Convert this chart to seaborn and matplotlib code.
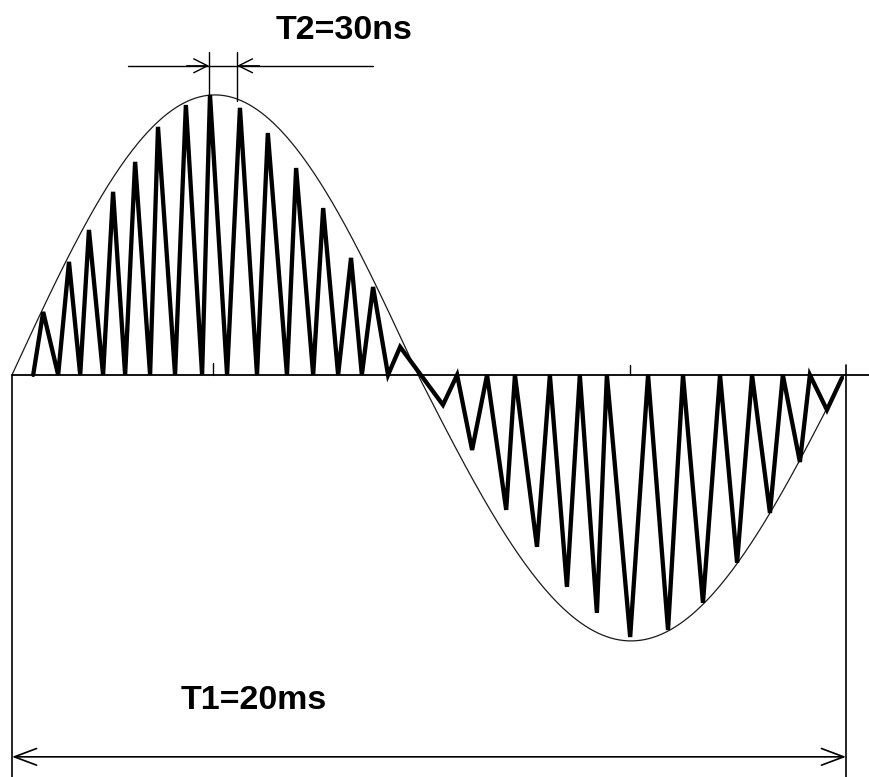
import numpy as np
import pandas as pd
import seaborn as sns
import matplotlib.pyplot as plt

# carrier zig-zag: vertices (time in ms, amplitude relative to the positive peak)
carrier_t = [0.51, 0.75, 1.11, 1.37, 1.64, 1.85, 2.19, 2.43, 2.72, 2.96, 3.32, 3.51,
             3.92, 4.18, 4.57, 4.76, 5.17, 5.48, 5.89, 6.15, 6.61, 6.83, 7.24, 7.48,
             7.84, 8.15, 8.41, 8.68, 9.04, 9.33,
             10.36, 10.70, 11.06, 11.42, 11.88, 12.09, 12.62, 12.93, 13.34, 13.65,
             14.06, 14.30, 14.86, 15.29, 15.77, 16.13, 16.61, 17.02, 17.43, 17.79,
             18.22, 18.53, 18.94, 19.18, 19.59, 19.95]
carrier_v = [0.0, 0.225, 0.0, 0.404, 0.0, 0.518, 0.0, 0.654, 0.0, 0.761, 0.0, 0.886,
             0.0, 0.964, 0.0, 1.0, 0.0, 0.954, 0.0, 0.864, 0.0, 0.739, 0.0, 0.596,
             0.0, 0.418, 0.0, 0.314, 0.0, 0.100,
             -0.107, 0.0, -0.268, 0.0, -0.482, 0.0, -0.614, 0.0, -0.757, 0.0,
             -0.850, 0.0, -0.936, 0.0, -0.911, 0.0, -0.814, 0.0, -0.671, 0.0,
             -0.493, 0.0, -0.311, 0.0, -0.125, -0.011]

# envelope: one period of the mains sine, T1 = 20 ms
T1 = 20.0
zero_cross = 9.76      # where the envelope crosses the axis
pos_peak = 1.0
neg_peak = 0.95

labels = ["T2=30ns", "T1=20ms"]

t_pos = np.linspace(0, zero_cross, 200)
t_neg = np.linspace(zero_cross, T1, 200)
env = pd.DataFrame({
    "t": np.concatenate([t_pos, t_neg]),
    "v": np.concatenate([pos_peak * np.sin(np.pi * t_pos / zero_cross),
                         -neg_peak * np.sin(np.pi * (t_neg - zero_cross) / (T1 - zero_cross))]),
})
carrier = pd.DataFrame({"t": carrier_t, "v": carrier_v})

sns.set_style("white")
plt.rcParams["font.family"] = ["Liberation Sans", "DejaVu Sans"]

fig = plt.figure(figsize=(8.7, 7.77), dpi=100)
ax = fig.add_axes([0, 0, 1, 1])

sns.lineplot(data=env, x="t", y="v", ax=ax, color="#1a1a1a", lw=0.9,
             estimator=None, sort=False)
sns.lineplot(data=carrier, x="t", y="v", ax=ax, color="black", lw=3.1,
             estimator=None, sort=False)
ax.lines[-1].set_solid_joinstyle("miter")

ax.set_xlim(-0.288, 20.625)
ax.set_ylim(-1.436, 1.339)
ax.axis("off")

# axis line and frame lines
ax.plot([0, 20.625], [0, 0], color="black", lw=1.3)
ax.plot([0, 0], [0, -1.436], color="black", lw=1.2)
ax.plot([20.05, 20.05], [0.036, -1.436], color="black", lw=1.2)
ax.plot([14.86, 14.86], [0, 0.036], color="black", lw=1.0)
ax.plot([4.83, 4.83], [0, 0.043], color="black", lw=1.0)

# T2 dimension
y_dim = 1.104
ax.plot([2.79, 8.68], [y_dim, y_dim], color="black", lw=1.0)
ax.plot([4.74, 4.74], [1.154, 1.0], color="black", lw=1.0)
ax.plot([5.41, 5.41], [1.154, 0.98], color="black", lw=1.0)
arr = dict(arrowstyle="->,head_length=0.5,head_width=0.25", color="black", lw=1.0,
           shrinkA=0, shrinkB=0, mutation_scale=20)
ax.annotate("", xy=(4.74, y_dim), xytext=(4.2, y_dim), arrowprops=arr)
ax.annotate("", xy=(5.41, y_dim), xytext=(5.95, y_dim), arrowprops=arr)
ax.text(7.98, 1.229, labels[0], fontsize=24.5, fontweight="bold", color="black",
        ha="center", va="center")

# T1 dimension
y_t1 = -1.364
ax.annotate("", xy=(0.0, y_t1), xytext=(20.05, y_t1),
            arrowprops=dict(arrowstyle="<->,head_length=0.8,head_width=0.3",
                            color="black", lw=1.2, shrinkA=0, shrinkB=0,
                            mutation_scale=20))
ax.text(5.81, -1.164, labels[1], fontsize=24.5, fontweight="bold", color="black",
        ha="center", va="center")

fig.savefig("out.png", dpi=100, facecolor="white")
